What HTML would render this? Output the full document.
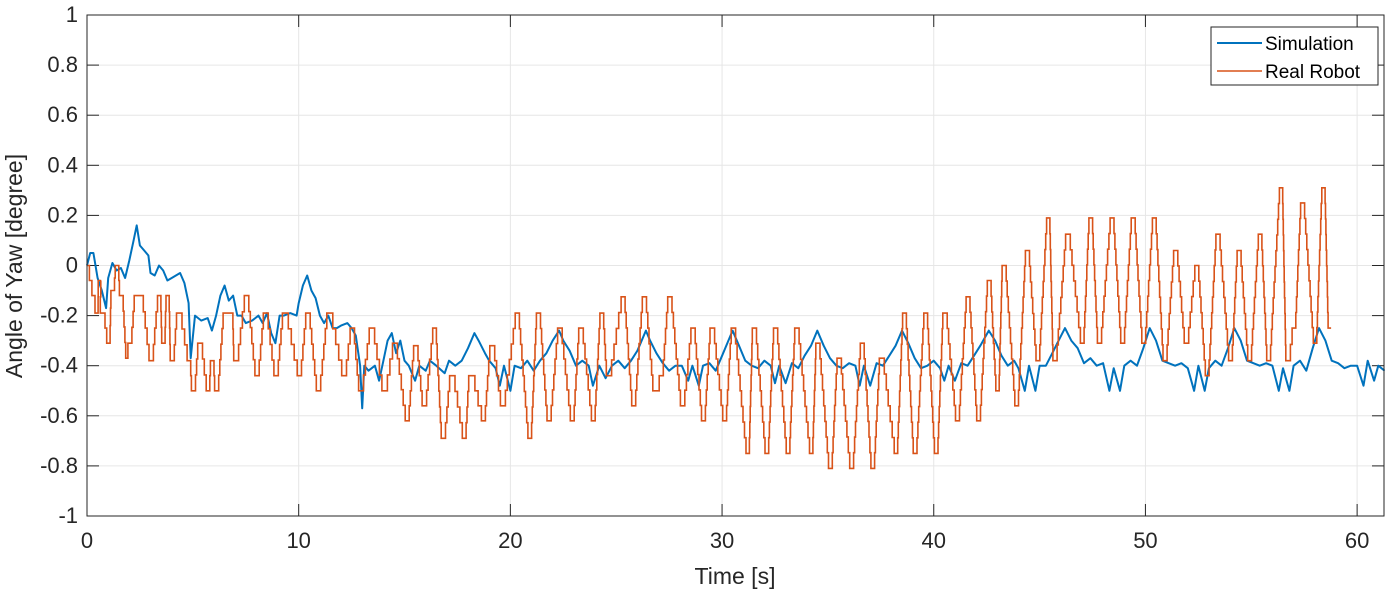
<!DOCTYPE html>
<html><head><meta charset="utf-8"><style>
html,body{margin:0;padding:0;background:#fff;}
svg{display:block;font-family:"Liberation Sans",Arial,sans-serif;}
</style></head><body>
<svg id="chart" width="1385" height="590" viewBox="0 0 1385 590" xmlns="http://www.w3.org/2000/svg">
<rect width="1385" height="590" fill="#fff"/>
<g id="grid"></g>
<g id="ticks"></g>
<g id="series"></g>
<rect x="87" y="15" width="1297" height="501" fill="none" stroke="#262626" stroke-width="1"/>
<text x="22" y="266" transform="rotate(-90 22 266)" text-anchor="middle" font-size="23" fill="#262626">Angle of Yaw [degree]</text>
<text x="735" y="584" text-anchor="middle" font-size="23" fill="#262626">Time [s]</text>
<g>
<rect x="1211" y="27" width="167" height="58" fill="#fff" stroke="#262626" stroke-width="1"/>
<line x1="1217" y1="43" x2="1262" y2="43" stroke="#0072BD" stroke-width="2"/>
<text x="1265" y="50" font-size="19" fill="#000">Simulation</text>
<line x1="1217" y1="71" x2="1262" y2="71" stroke="#D95319" stroke-width="1.5"/>
<text x="1265" y="78" font-size="19" fill="#000">Real Robot</text>
</g>
</svg>
<script>
const xTicks = [0,10,20,30,40,50,60];
const yTicks = [1,0.8,0.6,0.4,0.2,0,-0.2,-0.4,-0.6,-0.8,-1];
const simT = [0,0.15,0.3,0.5,0.7,0.9,1.0,1.2,1.4,1.6,1.8,2.0,2.2,2.35,2.5,2.7,2.9,3.0,3.2,3.4,3.6,3.8,4.0,4.2,4.4,4.6,4.8,4.9,5.1,5.4,5.7,5.9,6.1,6.3,6.5,6.7,6.9,7.1,7.3,7.5,7.8,8.1,8.3,8.5,8.7,8.9,9.1,9.3,9.6,9.9,10.0,10.2,10.4,10.6,10.8,11.0,11.2,11.4,11.6,11.8,12.0,12.3,12.5,12.7,12.9,13.0,13.1,13.3,13.6,13.8,14.0,14.2,14.4,14.6,14.8,15.0,15.2,15.5,15.7,16.0,16.2,16.5,16.9,17.1,17.4,17.7,18.0,18.3,18.5,18.8,19.0,19.3,19.5,19.7,20.0,20.2,20.5,20.8,21.1,21.4,21.7,22.0,22.3,22.5,22.8,23.1,23.4,23.7,23.9,24.2,24.5,24.8,25.1,25.4,25.7,26.0,26.4,26.6,26.9,27.2,27.5,27.8,28.1,28.4,28.6,28.9,29.1,29.4,29.7,30.0,30.3,30.5,30.8,31.1,31.4,31.7,32.0,32.3,32.5,32.7,33.0,33.3,33.6,33.9,34.2,34.5,34.8,35.1,35.4,35.7,36.0,36.3,36.5,36.7,37.0,37.3,37.6,37.9,38.2,38.5,38.8,39.1,39.4,39.7,40.0,40.3,40.5,40.7,41.0,41.3,41.6,41.9,42.2,42.6,42.9,43.2,43.5,43.8,44.0,44.3,44.5,44.8,45.0,45.3,45.6,45.9,46.2,46.5,46.8,47.1,47.4,47.7,48.0,48.3,48.5,48.8,49.0,49.3,49.6,49.9,50.2,50.5,50.8,51.1,51.4,51.7,52.0,52.3,52.5,52.8,53.0,53.3,53.6,53.9,54.2,54.5,54.8,55.1,55.4,55.7,56.0,56.3,56.5,56.8,57.0,57.3,57.6,57.9,58.2,58.5,58.8,59.1,59.4,59.7,60.0,60.3,60.5,60.8,61.0,61.3];
const simV = [0,0.05,0.05,-0.05,-0.1,-0.17,-0.05,0.01,-0.02,-0.01,-0.05,0.02,0.1,0.16,0.08,0.06,0.04,-0.03,-0.04,0,-0.02,-0.06,-0.05,-0.04,-0.03,-0.07,-0.15,-0.37,-0.2,-0.22,-0.21,-0.26,-0.2,-0.12,-0.08,-0.14,-0.12,-0.2,-0.2,-0.23,-0.22,-0.2,-0.23,-0.19,-0.27,-0.31,-0.2,-0.2,-0.19,-0.2,-0.15,-0.08,-0.04,-0.1,-0.13,-0.2,-0.23,-0.2,-0.25,-0.25,-0.24,-0.23,-0.25,-0.28,-0.4,-0.57,-0.4,-0.42,-0.4,-0.46,-0.38,-0.3,-0.27,-0.35,-0.3,-0.38,-0.4,-0.46,-0.4,-0.42,-0.38,-0.4,-0.43,-0.38,-0.4,-0.38,-0.33,-0.27,-0.3,-0.35,-0.38,-0.41,-0.48,-0.4,-0.5,-0.4,-0.41,-0.38,-0.42,-0.38,-0.35,-0.3,-0.26,-0.3,-0.34,-0.4,-0.38,-0.4,-0.48,-0.4,-0.45,-0.4,-0.38,-0.41,-0.38,-0.34,-0.26,-0.3,-0.35,-0.39,-0.42,-0.4,-0.4,-0.46,-0.4,-0.48,-0.4,-0.39,-0.42,-0.36,-0.3,-0.26,-0.32,-0.38,-0.4,-0.41,-0.38,-0.4,-0.47,-0.4,-0.47,-0.39,-0.41,-0.36,-0.32,-0.26,-0.32,-0.37,-0.4,-0.41,-0.39,-0.4,-0.48,-0.4,-0.48,-0.39,-0.4,-0.36,-0.32,-0.26,-0.31,-0.37,-0.41,-0.4,-0.38,-0.41,-0.46,-0.4,-0.46,-0.39,-0.4,-0.36,-0.32,-0.26,-0.3,-0.36,-0.4,-0.38,-0.41,-0.5,-0.4,-0.5,-0.4,-0.4,-0.35,-0.3,-0.25,-0.3,-0.33,-0.39,-0.37,-0.4,-0.39,-0.5,-0.41,-0.5,-0.4,-0.38,-0.4,-0.33,-0.25,-0.3,-0.38,-0.39,-0.4,-0.39,-0.41,-0.5,-0.4,-0.5,-0.41,-0.38,-0.4,-0.33,-0.25,-0.3,-0.38,-0.39,-0.4,-0.39,-0.4,-0.5,-0.41,-0.5,-0.4,-0.38,-0.42,-0.33,-0.25,-0.3,-0.38,-0.39,-0.41,-0.4,-0.4,-0.48,-0.38,-0.46,-0.4,-0.42];
const realT = [0,0.3,0.45,0.6,0.7,1.0,1.2,1.4,1.6,1.9,2.0,2.3,2.5,3.0,3.4,3.6,3.8,4.0,4.3,4.8,5.0,5.3,5.7,5.9,6.1,6.5,6.8,7.0,7.5,8.0,8.4,8.9,9.3,10.0,10.4,10.9,11.4,12.1,12.5,12.9,13.4,14.0,14.5,15.1,15.5,15.9,16.4,16.8,17.2,17.8,18.1,18.7,19.1,19.6,20.3,20.9,21.3,21.8,22.3,22.9,23.3,23.9,24.3,24.6,25.3,25.8,26.3,26.8,27.1,27.5,28.1,28.6,29.1,29.5,30.1,30.5,31.2,31.5,32.1,32.5,33.1,33.5,34.2,34.5,35.1,35.5,36.1,36.6,37.1,37.5,38.2,38.6,39.1,39.6,40.1,40.5,41.1,41.6,42.1,42.6,43.0,43.3,43.9,44.4,44.9,45.4,45.7,46.3,47.0,47.4,47.8,48.4,48.9,49.4,49.9,50.4,50.9,51.4,51.9,52.4,52.9,53.4,54.0,54.4,54.9,55.4,55.8,56.4,56.7,57.0,57.4,58.0,58.4,58.7];
const realV = [0,-0.12,-0.19,-0.06,-0.19,-0.31,-0.1,0,-0.12,-0.37,-0.31,-0.12,-0.12,-0.38,-0.12,-0.31,-0.12,-0.38,-0.19,-0.38,-0.5,-0.31,-0.5,-0.38,-0.5,-0.19,-0.19,-0.38,-0.12,-0.44,-0.19,-0.44,-0.19,-0.44,-0.19,-0.5,-0.19,-0.44,-0.25,-0.5,-0.25,-0.5,-0.31,-0.62,-0.32,-0.56,-0.25,-0.69,-0.44,-0.69,-0.44,-0.62,-0.32,-0.56,-0.19,-0.69,-0.19,-0.62,-0.25,-0.62,-0.25,-0.62,-0.19,-0.44,-0.125,-0.56,-0.125,-0.5,-0.44,-0.125,-0.56,-0.25,-0.62,-0.25,-0.62,-0.25,-0.75,-0.25,-0.75,-0.25,-0.75,-0.25,-0.75,-0.31,-0.81,-0.37,-0.81,-0.31,-0.81,-0.37,-0.75,-0.19,-0.75,-0.19,-0.75,-0.19,-0.62,-0.125,-0.62,-0.06,-0.5,0,-0.56,0.06,-0.38,0.19,-0.38,0.125,-0.31,0.19,-0.31,0.19,-0.31,0.19,-0.31,0.19,-0.38,0.06,-0.31,0,-0.44,0.125,-0.38,0.06,-0.38,0.125,-0.38,0.31,-0.38,-0.25,0.25,-0.31,0.31,-0.25];

const X0=87, X1=1384, Y0=516, Y1=15, XMAX=61.27;
const sx = t => X0 + (t/XMAX)*(X1-X0);
const sy = v => Y0 - ((v+1)/2)*(Y0-Y1);
const NS="http://www.w3.org/2000/svg";
const grid=document.getElementById('grid'), ticks=document.getElementById('ticks'), series=document.getElementById('series');
function mk(tag, attrs, parent){const e=document.createElementNS(NS,tag);for(const k in attrs)e.setAttribute(k,attrs[k]);parent.appendChild(e);return e;}
xTicks.forEach(t=>{
  const x=sx(t);
  const g=mk('line',{x1:x,y1:Y1,x2:x,y2:Y0,stroke:'#e6e6e6','stroke-width':1},grid);
  
  
  mk('line',{x1:x,y1:Y0,x2:x,y2:Y0-12,stroke:'#262626'},ticks);
  mk('line',{x1:x,y1:Y1,x2:x,y2:Y1+12,stroke:'#262626'},ticks);
  const l=mk('text',{x:x,y:548,'text-anchor':'middle','font-size':22,fill:'#262626'},ticks);
  l.textContent=String(t);
  
  
});
yTicks.forEach(v=>{
  const y=sy(v);
  const g=mk('line',{x1:X0,y1:y,x2:X1,y2:y,stroke:'#e6e6e6','stroke-width':1},grid);
  
  
  mk('line',{x1:X0,y1:y,x2:X0+12,y2:y,stroke:'#262626'},ticks);
  mk('line',{x1:X1,y1:y,x2:X1-12,y2:y,stroke:'#262626'},ticks);
  const l=mk('text',{x:78,y:y+7,'text-anchor':'end','font-size':22,fill:'#262626'},ticks);
  l.textContent=String(v);
  
  
});
function pts(T,V){return T.map((t,i)=>sx(t).toFixed(1)+','+sy(V[i]).toFixed(1)).join(' ');}
// staircase rendering for quantized real-robot signal
function stairPts(T,V){
  const H=0.07, STEP=0.0625, out=[];
  for(let i=0;i<T.length;i++){
    const ta=i===0?T[i]:T[i]+H, va=V[i];
    if(i>0) out.push([T[i]-H<T[i-1]?T[i]:T[i]-H, va]);
    out.push([ta,va]);
    if(i<T.length-1){
      const tb=T[i+1]-H, vb=V[i+1];
      const n=Math.max(1,Math.round(Math.abs(vb-va)/STEP));
      const dt=(tb-ta)/n;
      for(let k=1;k<n;k++){
        const t=ta+dt*k, v=va+(vb-va)*k/n;
        out.push([t,va+(vb-va)*(k-1)/n]);
        out.push([t,v]);
      }
      out.push([tb,va+(vb-va)*(n-1)/n]);
    }
  }
  return out.map(p=>sx(p[0]).toFixed(1)+','+sy(p[1]).toFixed(1)).join(' ');
}
const sim=mk('polyline',{points:pts(simT,simV),fill:'none',stroke:'#0072BD','stroke-width':2,'stroke-linejoin':'round'},series);


const real=mk('polyline',{points:stairPts(realT,realV),fill:'none',stroke:'#D95319','stroke-width':1.6,'stroke-linejoin':'miter'},series);


</script>
</body></html>
